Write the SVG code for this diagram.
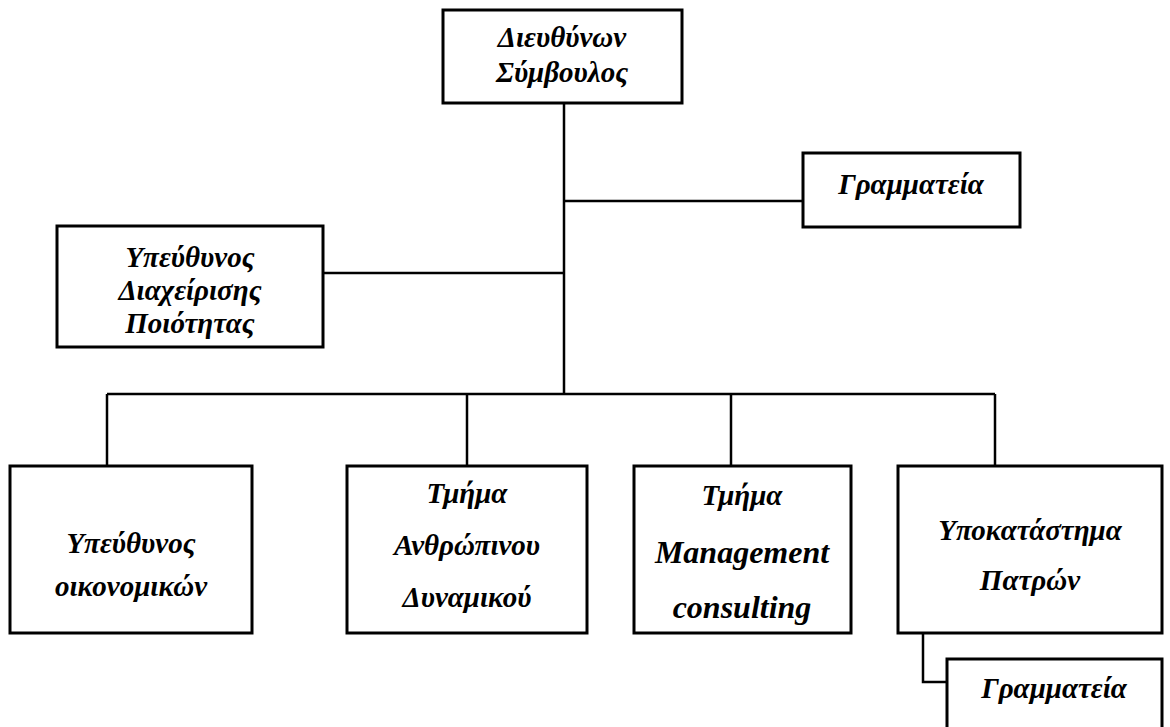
<svg xmlns="http://www.w3.org/2000/svg" width="1170" height="727" viewBox="0 0 1170 727">
  <style>
    .box { fill: #ffffff; stroke: #000000; stroke-width: 3; }
    .link { fill: none; stroke: #000000; stroke-width: 2.5; }
    .lbl { font-family: 'Liberation Serif', 'DejaVu Serif', 'Times New Roman', serif; font-style: italic; font-weight: 700; font-size: 29px; fill: #000000; text-anchor: middle; }
    .lat { font-size: 32px; }
  </style>
  <rect width="1170" height="727" fill="#ffffff"/>

  <g id="connectors">
    <path class="link" d="M564 103 V394"/>
    <path class="link" d="M564 201 H803"/>
    <path class="link" d="M323 273 H564"/>
    <path class="link" d="M107 394 H995"/>
    <path class="link" d="M107 394 V466"/>
    <path class="link" d="M467 394 V466"/>
    <path class="link" d="M731 394 V466"/>
    <path class="link" d="M995 394 V466"/>
    <path class="link" d="M923 633 V682 H947"/>
  </g>

  <g id="ceo">
    <rect class="box" x="443" y="10" width="239" height="93"/>
    <text class="lbl" x="562" y="47">Διευθύνων</text>
    <text class="lbl" x="562" y="82">Σύμβουλος</text>
  </g>

  <g id="secretariat">
    <rect class="box" x="803" y="153" width="217" height="74"/>
    <text class="lbl" x="911" y="194">Γραμματεία</text>
  </g>

  <g id="quality">
    <rect class="box" x="57" y="226" width="266" height="121"/>
    <text class="lbl" x="190" y="267">Υπεύθυνος</text>
    <text class="lbl" x="190" y="300">Διαχείρισης</text>
    <text class="lbl" x="190" y="333">Ποιότητας</text>
  </g>

  <g id="finance">
    <rect class="box" x="10" y="466" width="242" height="167"/>
    <text class="lbl" x="131" y="553">Υπεύθυνος</text>
    <text class="lbl" x="131" y="596">οικονομικών</text>
  </g>

  <g id="hr">
    <rect class="box" x="347" y="466" width="240" height="167"/>
    <text class="lbl" x="467" y="503">Τμήμα</text>
    <text class="lbl" x="467" y="555">Ανθρώπινου</text>
    <text class="lbl" x="467" y="607">Δυναμικού</text>
  </g>

  <g id="consulting">
    <rect class="box" x="634" y="466" width="217" height="167"/>
    <text class="lbl" x="742" y="505">Τμήμα</text>
    <text class="lbl lat" x="742" y="563">Management</text>
    <text class="lbl lat" x="742" y="618">consulting</text>
  </g>

  <g id="patras">
    <rect class="box" x="898" y="466" width="264" height="167"/>
    <text class="lbl" x="1030" y="540">Υποκατάστημα</text>
    <text class="lbl" x="1030" y="590">Πατρών</text>
  </g>

  <g id="patras-secretariat">
    <rect class="box" x="947" y="659" width="215" height="90"/>
    <text class="lbl" x="1054" y="698">Γραμματεία</text>
  </g>
</svg>
